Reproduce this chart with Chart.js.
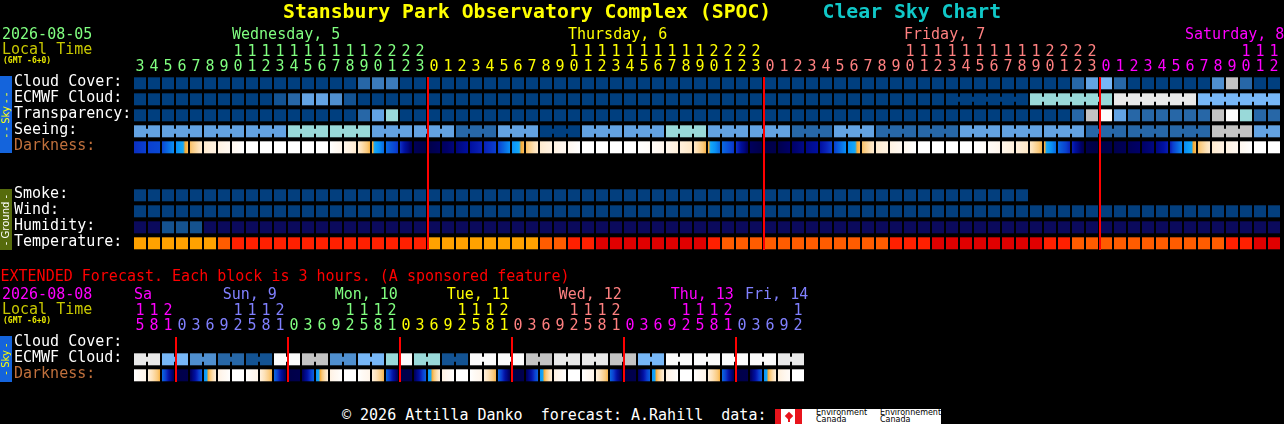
<!DOCTYPE html>
<html>
<head>
<meta charset="utf-8">
<script src="https://cdn.jsdelivr.net/npm/chart.js"></script>
<style>
body { margin: 0; background: #000; }
#wrap { position: relative; width: 1284px; height: 424px; overflow: hidden; background: #000; font-family: 'DejaVu Sans Mono', monospace; }
canvas { position: absolute; left: 0; }
.t { position: absolute; white-space: pre; z-index: 2; }
.side { position: absolute; left: 0; width: 12px; z-index: 2; overflow: hidden; }
.side span { position: absolute; left: 50%; top: 50%; transform: translate(-50%, -50%) rotate(-90deg); font: 10px 'DejaVu Sans', sans-serif; line-height: 12px; white-space: pre; }
</style>
</head>
<body>
<div id="wrap">
  <canvas id="main" width="1284" height="258" style="top:0"></canvas>
  <canvas id="ext" width="1284" height="130" style="top:260px"></canvas>
</div>
<script>
// ---- hourly part: 2026-08-05 03h .. 2026-08-08 12h (local time) ----
var hours = [3,4,5,6,7,8,9,10,11,12,13,14,15,16,17,18,19,20,21,22,23,
  0,1,2,3,4,5,6,7,8,9,10,11,12,13,14,15,16,17,18,19,20,21,22,23,
  0,1,2,3,4,5,6,7,8,9,10,11,12,13,14,15,16,17,18,19,20,21,22,23,
  0,1,2,3,4,5,6,7,8,9,10,11,12];
var dayNames = ['Wednesday, 5', 'Thursday, 6', 'Friday, 7', 'Saturday, 8'];

// sky levels: 0 = clear/best ... 10 = overcast/worst
var cloudCover = [0,0,0,0,0,0,0,0,0,0,0,0,0,0,0,0,2,3,3,0,0,
  0,0,0,0,0,0,0,0,0,0,0,0,0,0,0,0,0,0,0,0,0,0,0,0,
  0,0,0,0,0,0,0,0,0,0,0,0,0,0,0,0,0,0,0,0,0,0,2,5,
  6,2,0,0,0,0,0,0,4,8,2,0,0];
var ecmwfCloud = [0,0,0,0,0,0,0,0,0,0,1,2,5,5,4,1,0,0,0,0,0,
  0,0,0,0,0,0,0,0,0,0,0,0,0,0,0,0,0,0,0,0,0,0,0,0,
  0,0,0,0,0,0,0,0,0,0,0,0,0,0,0,0,0,0,0,7,7,7,7,7,
  7,9,9,9,9,9,9,6,6,6,6,6,6];
var ecmwfSixHourFrom = 58;
var transparency = [0,0,0,0,0,0,0,0,0,0,0,0,0,0,0,0,2,5,7,0,0,
  0,0,0,0,0,0,0,0,0,0,0,0,0,0,0,0,0,0,0,0,0,0,0,0,
  0,0,0,0,0,0,0,0,0,0,0,0,0,0,0,0,0,0,0,0,0,0,2,8,
  10,5,2,2,2,2,2,2,8,10,7,2,2];
var seeing = [5,5,5,5,5,5,5,5,5,5,5,7,7,7,7,7,7,5,5,5,5,
  5,5,2,2,2,5,5,5,0,0,0,5,5,5,5,5,5,7,7,7,5,5,5,5,
  5,5,2,2,2,5,5,5,2,2,2,2,2,2,5,5,5,5,5,5,5,5,5,2,
  2,2,2,2,2,2,2,2,8,8,8,5,5];
// limiting magnitude at the start of each hour (white = day, navy = night)
var darkness = [3.3,3.0,2.8,1.0,-0.8,-2.5,-3.0,-3.5,-4,-4,-4,-4,-4,-4,-4,-3.3,-2.5,-0.6,2.0,3.2,5.3,
  5.6,5.2,4.7,4.0,3.5,3.0,1.0,-0.8,-2.5,-3.0,-3.5,-4,-4,-4,-4,-4,-3.8,-3.3,-2.8,-2.3,-0.6,2.0,3.2,5.2,
  5.6,5.5,5.0,4.5,4.0,3.0,1.0,-0.8,-2.5,-3.0,-3.5,-4,-4,-4,-4,-4,-3.8,-3.3,-2.8,-2.3,-0.6,2.0,3.5,5.5,
  5.7,5.5,5.3,5.0,4.6,3.6,1.2,-0.8,-2.5,-3.0,-3.5,-4,-4];
var smoke = [0,0,0,0,0,0,0,0,0,0,0,0,0,0,0,0,0,0,0,0,0,
  0,0,0,0,0,0,0,0,0,0,0,0,0,0,0,0,0,0,0,0,0,0,0,0,
  0,0,0,0,0,0,0,0,0,0,0,0,0,0,0,0,0,0,0,null,null,null,null,null,
  null,null,null,null,null,null,null,null,null,null,null,null,null];
var wind = [0,0,0,0,0,0,0,0,0,0,0,0,0,0,0,0,0,0,0,0,0,
  0,0,0,0,0,0,0,0,0,0,0,0,0,0,0,0,0,0,0,0,0,0,0,0,
  0,0,0,0,0,0,0,0,0,0,0,0,0,0,0,0,0,0,0,0,0,0,0,0,
  0,0,0,0,0,0,0,0,0,0,0,0,0];
var humidity = [20,20,27,27,27,20,20,20,20,20,20,20,20,20,20,20,20,20,20,20,20,
  20,20,20,20,20,20,20,20,20,20,20,20,20,20,20,20,20,20,20,20,20,20,20,20,
  20,20,20,20,20,20,20,20,20,20,20,20,20,20,20,20,20,20,20,20,20,20,20,20,
  20,20,20,20,20,20,20,20,20,20,20,20,20];
var temperature = [22,22,22,22,22,22,27,32,32,32,32,32,32,32,32,32,32,32,32,32,32,
  22,22,22,22,22,22,22,22,27,27,32,32,36,36,36,36,36,36,36,36,32,27,27,27,
  27,27,27,27,27,27,27,27,27,32,32,32,36,36,36,36,36,36,36,36,32,32,27,27,
  27,27,27,27,27,27,27,27,27,32,32,36,36];

// ---- extended part: 3-hour blocks, 2026-08-08 15h .. 2026-08-14 12h ----
var extHours = [15,18,21,
  0,3,6,9,12,15,18,21, 0,3,6,9,12,15,18,21, 0,3,6,9,12,15,18,21,
  0,3,6,9,12,15,18,21, 0,3,6,9,12,15,18,21, 0,3,6,9,12];
var extDayNames = ['Sa', 'Sun, 9', 'Mon, 10', 'Tue, 11', 'Wed, 12', 'Thu, 13', 'Fri, 14'];
var extEcmwf = [9,9, 6,6, 4,4, 2,2, 1,1, 10,10, 8,8, 4,4, 6,6, 7,10, 7,7, 1,1,
  10,10, 10,10, 8,8, 9,9, 9,9, 8,8, 6,6, 10,10, 10,10, 10,10, 10,10, 9,9];
var extDarkStart = [-4,-2.8,2.0,
  5.6,5.3,0.8,-3.0,-4,-4,-2.8,2.0, 5.6,5.3,0.8,-3.0,-4,-4,-2.8,2.0, 5.6,5.3,0.8,-3.0,-4,-4,-2.8,2.0,
  5.6,5.3,0.8,-3.0,-4,-4,-2.8,2.0, 5.6,5.3,0.8,-3.0,-4,-4,-2.8,2.0, 5.6,5.3,0.8,-2.8,-4];
var extDarkEnd = [-3.2,-0.6,5.4,
  5.5,2.2,-2.8,-4,-4,-3.2,-0.6,5.4, 5.5,2.2,-2.8,-4,-4,-3.2,-0.6,5.4, 5.5,2.2,-2.8,-4,-4,-3.2,-0.6,5.4,
  5.5,2.2,-2.8,-4,-4,-3.2,-0.6,5.4, 5.5,2.2,-2.8,-4,-4,-3.2,-0.6,5.4, 5.5,2.2,-2.8,-3.8,-4];

// ---- styles ----
var CELL = 12 / 14;  // 12 px block on a 14 px pitch
var skyColors = ['#003f7f','#135393','#2767a7','#3b7bbb','#4f8fcf','#63a3e3','#77b7f7','#99d9d9','#c3c3c3','#e9e9e9','#fbfbfb'];
var mainDayColors = ['#80ff80', '#ffff00', '#ff8080', '#ff00ff'];
var extDayColors = ['#ff00ff', '#8080ff', '#80ff80', '#ffff00', '#ff8080', '#ff00ff', '#8080ff'];
var darkStops = [
  [6.0,[0,0,56]],[5.6,[0,0,72]],[5.3,[0,0,88]],[5.0,[0,0,104]],[4.6,[0,8,128]],[4.0,[0,16,160]],
  [3.5,[10,34,184]],[3.0,[10,64,208]],[2.0,[10,104,224]],[1.0,[10,144,245]],[-0.15,[20,170,248]],
  [-0.3,[245,165,40]],[-1.0,[250,200,120]],[-2.0,[253,226,185]],[-2.8,[255,240,220]],
  [-3.3,[255,246,236]],[-3.7,[255,250,245]],[-4.0,[255,255,255]]];

function sky(v) { return skyColors[v]; }
function ground(v) { return '#033f7e'; }
function humColor(h) { return h < 25 ? '#0b0a5c' : '#15528e'; }
function tempColor(t) { return t < 25 ? '#ffa200' : t < 30 ? '#ff5c00' : t < 35 ? '#ff2000' : '#e00000'; }
function darkColor(m) {
  if (m >= darkStops[0][0]) return 'rgb(' + darkStops[0][1] + ')';
  for (var k = 1; k < darkStops.length; k++) {
    var a = darkStops[k - 1], b = darkStops[k];
    if (m >= b[0]) {
      var f = (a[0] - m) / (a[0] - b[0]);
      var c = a[1].map(function (v, j) { return Math.round(v + (b[1][j] - v) * f); });
      return 'rgb(' + c + ')';
    }
  }
  return '#ffffff';
}

function cellSet(values, slot, colorOf) {
  var data = [], colors = [];
  values.forEach(function (v, i) {
    if (v === null) return;
    data.push({ x: [i, i + CELL], y: slot });
    colors.push(colorOf(v));
  });
  return { data: data, backgroundColor: colors, maxBarThickness: 12, xAxisID: 'x', yAxisID: 'y' };
}
function linkSet(values, slot, colorOf, joined) {
  var data = [], colors = [];
  for (var i = 0; i + 1 < values.length; i++) {
    if (values[i] === null || values[i] !== values[i + 1] || !joined(i)) continue;
    data.push({ x: [i + CELL, i + 1], y: slot });
    colors.push(colorOf(values[i]));
  }
  return { data: data, backgroundColor: colors, maxBarThickness: 5, xAxisID: 'x', yAxisID: 'y' };
}
function darkSet(m0, m1, slot) {
  return {
    data: m0.map(function (v, i) { return { x: [i, i + CELL], y: slot }; }),
    maxBarThickness: 12, xAxisID: 'x', yAxisID: 'y',
    backgroundColor: function (c) {
      var ch = c.chart;
      if (c.type !== 'data' || !ch.chartArea) return '#000';
      var xs = ch.scales.x, i = c.dataIndex;
      var g = ch.ctx.createLinearGradient(xs.getPixelForValue(i), 0, xs.getPixelForValue(i + CELL), 0);
      for (var k = 0; k <= 12; k++) g.addColorStop(k / 12, darkColor(m0[i] + (m1[i] - m0[i]) * k / 12));
      return g;
    }
  };
}

function dayIndex(hrs) {
  var d = 0;
  return hrs.map(function (h, i) { if (i > 0 && h < hrs[i - 1]) d++; return d; });
}

var monoFont = { family: 'DejaVu Sans Mono', size: 15, lineHeight: 1 };

function makeChart(id, hrs, dayColors, rows, datasets, yMin, yMax, padRight, tickPad) {
  var days = dayIndex(hrs);
  var midnights = [];
  hrs.forEach(function (h, i) { if (h === 0 && i > 0) midnights.push(i); });
  return new Chart(document.getElementById(id), {
    type: 'bar',
    data: { datasets: datasets },
    options: {
      indexAxis: 'y',
      responsive: false,
      animation: false,
      layout: { padding: { left: 14, right: padRight, top: 0, bottom: 0 } },
      datasets: { bar: { grouped: false, barPercentage: 1, categoryPercentage: 1, inflateAmount: 0 } },
      plugins: { legend: { display: false }, tooltip: { enabled: false } },
      scales: {
        x: {
          type: 'linear', position: 'bottom', bounds: 'data', offset: false, min: 0, max: hrs.length,
          afterBuildTicks: function (ax) { ax.ticks = midnights.map(function (v) { return { value: v }; }); },
          afterFit: function (ax) { ax.height = 0; },
          ticks: { display: false },
          grid: { color: '#ff0000', lineWidth: 2, drawTicks: false, z: 1 },
          border: { display: false }
        },
        xt: {
          type: 'linear', axis: 'x', position: 'top', bounds: 'data', offset: false, min: 0, max: hrs.length,
          afterBuildTicks: function (ax) { ax.ticks = hrs.map(function (h, i) { return { value: i + CELL / 2 }; }); },
          afterFit: function (ax) { ax.height = 77; },
          grid: { display: false, drawTicks: false, tickLength: 0 },
          border: { display: false },
          ticks: {
            autoSkip: false, maxRotation: 0, minRotation: 0, padding: tickPad, font: monoFont,
            color: function (c) { return dayColors[days[c.index]]; },
            callback: function (v, i) { var h = hrs[i]; return [h >= 10 ? String(Math.floor(h / 10)) : '', String(h % 10)]; }
          }
        },
        y: {
          type: 'linear', position: 'left', reverse: true, bounds: 'data', offset: false, min: yMin, max: yMax,
          afterBuildTicks: function (ax) { ax.ticks = rows.map(function (r) { return { value: r[0] }; }); },
          afterFit: function (ax) { ax.width = 120; },
          grid: { display: false, drawTicks: false },
          border: { display: false },
          ticks: {
            autoSkip: false, crossAlign: 'far', labelOffset: -1, padding: 0.5, font: monoFont,
            color: function (c) { return rows[c.index][2] || '#ffffff'; },
            callback: function (v, i) { return rows[i][1]; }
          }
        }
      }
    }
  });
}

// ---- main (hourly) chart ----
var darkNext = darkness.map(function (v, i) { return i + 1 < darkness.length ? darkness[i + 1] : v; });
var mainRows = [[0, 'Cloud Cover:'], [1, 'ECMWF Cloud:'], [2, 'Transparency:'], [3, 'Seeing:'],
  [4, 'Darkness:', '#c0703c'], [7, 'Smoke:'], [8, 'Wind:'], [9, 'Humidity:'], [10, 'Temperature:']];
var mainChart = makeChart('main', hours, mainDayColors, mainRows, [
  cellSet(cloudCover, 0, sky),
  cellSet(ecmwfCloud, 1, sky),
  linkSet(ecmwfCloud, 1, sky, function (i) { return i >= ecmwfSixHourFrom && hours[i + 1] % 6 !== 1; }),
  cellSet(transparency, 2, sky),
  cellSet(seeing, 3, sky),
  linkSet(seeing, 3, sky, function (i) { return hours[i + 1] % 3 !== 2; }),
  darkSet(darkness, darkNext, 4),
  cellSet(smoke, 7, ground),
  cellSet(wind, 8, ground),
  cellSet(humidity, 9, humColor),
  cellSet(temperature, 10, tempColor)
], -0.394, -0.394 + 173 / 16, 2, 2);

// ---- extended (3-hour) chart ----
var extRows = [[0, 'Cloud Cover:'], [1, 'ECMWF Cloud:'], [2, 'Darkness:', '#c0703c']];
var extChart = makeChart('ext', extHours, extDayColors, extRows, [
  cellSet(extEcmwf, 1, sky),
  linkSet(extEcmwf, 1, sky, function (i) { return i % 2 === 0; }),
  darkSet(extDarkStart, extDarkEnd, 2)
], -0.394, -0.394 + 45 / 16, 1284 - 134 - extHours.length * 14, 3);

// ---- text ----
var wrap = document.getElementById('wrap');
function put(text, x, base, size, color, extra) {
  var d = document.createElement('div');
  d.className = 't';
  d.textContent = text;
  d.style.left = x + 'px';
  d.style.top = (base - 0.846 * size) + 'px';
  d.style.fontSize = size + 'px';
  d.style.lineHeight = size + 'px';
  d.style.color = color;
  if (extra) Object.assign(d.style, extra);
  wrap.appendChild(d);
  return d;
}
function dayLabels(chart, hrs, names, colors, step, base) {
  var xs = chart.scales.x, starts = [0];
  for (var i = 1; i < hrs.length; i++) if (hrs[i] < hrs[i - 1]) starts.push(i);
  starts.forEach(function (s, d) {
    var x = xs.getPixelForValue(Math.max(s + (10 - hrs[s]) / step, s));
    var el = put(names[d], x, base, 15, colors[d]);
    var right = chart.chartArea.right + 2;
    if (x + el.offsetWidth > right) el.style.left = (right - el.offsetWidth) + 'px';
  });
}
function side(top, h, bg, color, text) {
  var d = document.createElement('div');
  d.className = 'side';
  d.style.top = top + 'px';
  d.style.height = h + 'px';
  d.style.background = bg;
  var s = document.createElement('span');
  s.textContent = text;
  s.style.color = color;
  d.appendChild(s);
  wrap.appendChild(d);
}

put('Stansbury Park Observatory Complex (SPOC)', 283, 18.5, 19.8, '#ffff00', { fontWeight: 'bold' });
put('Clear Sky Chart', 822.5, 18.5, 19.8, '#10c8c8', { fontWeight: 'bold' });
put('2026-08-05', 2, 40, 15, '#80ff80');
put('Local Time', 2, 55, 15, '#c8c800');
put('(GMT -6+0)', 3, 64, 8, '#e8e800', { fontWeight: 'bold' });
dayLabels(mainChart, hours, dayNames, mainDayColors, 1, 40);
side(76, 77, '#1464dc', '#ffff00', '- - Sky - -');
side(189, 61, '#566b0c', '#ffffff', '- Ground -');

put('EXTENDED Forecast. Each block is 3 hours. (A sponsored feature)', 0.5, 282, 15, '#ff0000');
put('2026-08-08', 2, 300, 15, '#ff00ff');
put('Local Time', 2, 315, 15, '#c8c800');
put('(GMT -6+0)', 3, 324, 8, '#e8e800', { fontWeight: 'bold' });
dayLabels(extChart, extHours, extDayNames, extDayColors, 3, 300);
side(336, 46, '#1464dc', '#ffff00', '- Sky -');

put('\u00a9 2026 Attilla Danko  forecast: A.Rahill  data:', 342, 420.5, 15, '#ffffff');

// Environment Canada logo
var logo = document.createElement('div');
logo.style.cssText = 'position:absolute;left:775px;top:409px;width:166px;height:15px;background:#fff;z-index:2;';
logo.innerHTML =
  '<div style="position:absolute;left:0;top:0;width:6px;height:15px;background:#e8141c"></div>' +
  '<div style="position:absolute;left:11px;top:4px;width:6px;height:6px;background:#e8141c;transform:rotate(45deg)"></div>' +
  '<div style="position:absolute;left:13px;top:9px;width:2px;height:4px;background:#e8141c"></div>' +
  '<div style="position:absolute;left:20px;top:0;width:7px;height:15px;background:#e8141c"></div>' +
  '<div style="position:absolute;left:41px;top:0;font:8px/7px \'DejaVu Sans\',sans-serif;color:#000;white-space:pre">Environment\nCanada</div>' +
  '<div style="position:absolute;left:105px;top:0;font:8px/7px \'DejaVu Sans\',sans-serif;color:#000;white-space:pre">Environnement\nCanada</div>';
wrap.appendChild(logo);
</script>
</body>
</html>
